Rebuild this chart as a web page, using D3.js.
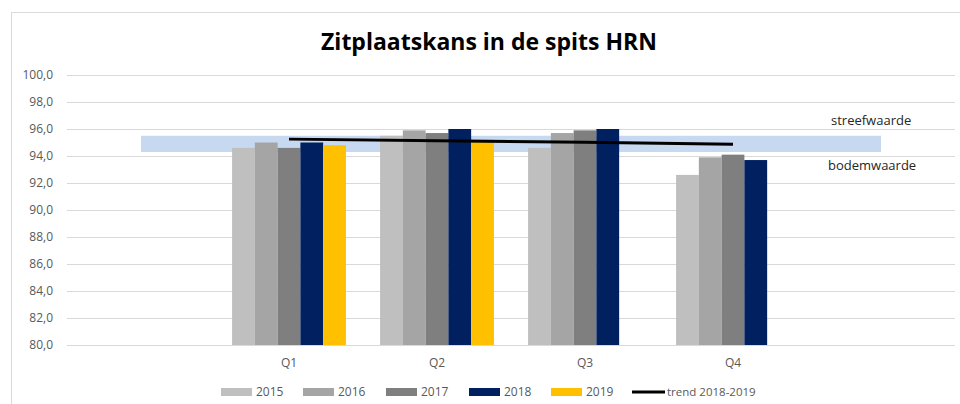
<!DOCTYPE html>
<html>
<head>
<meta charset="utf-8">
<script src="https://cdn.jsdelivr.net/npm/d3@7"></script>
<style>
    body { margin: 0; background: #fff; }
    svg { display: block; font-family: 'Open Sans', sans-serif; }
</style>
</head>
<body>
<div id="chart"></div>
<script>
var quarters = ['Q1', 'Q2', 'Q3', 'Q4'];
var years = ['2015', '2016', '2017', '2018', '2019'];
var s2015 = [94.6, 95.5, 94.6, 92.6];
var s2016 = [95.0, 95.9, 95.7, 93.9];
var s2017 = [94.6, 95.7, 95.9, 94.1];
var s2018 = [95.0, 96.0, 96.0, 93.7];
var s2019 = [94.8, 95.2, null, null];
var trend = [95.25, 95.13, 95.01, 94.87];
var bodemwaarde = [94.3, 94.3, 94.3, 94.3, 94.3, 94.3];
var streefwaarde = [95.5, 95.5, 95.5, 95.5, 95.5, 95.5];
var yTicks = [80, 82, 84, 86, 88, 90, 92, 94, 96, 98, 100];

(function() {
    'use strict';
    var width = 960;
    var height = 404;
    var colors = ['#bfbfbf', '#a5a5a5', '#7f7f7f', '#002060', '#ffc000'];
    var series = [s2015, s2016, s2017, s2018, s2019];

    // empty slots left and right, the band spans the whole width
    var slots = ['', quarters[0], quarters[1], quarters[2], quarters[3], ' '];

    var svg = d3.select('#chart').append('svg')
        .attr('width', width)
        .attr('height', height);

    svg.append('rect')
        .attr('x', 11.5).attr('y', 12.5)
        .attr('width', 980).attr('height', 420)
        .attr('fill', 'none')
        .attr('stroke', '#d9d9d9');

    var x = d3.scaleBand().domain(slots).range([67, 955]);
    var xs = d3.scaleBand().domain(years).range([0, x.bandwidth()]).paddingInner(0).paddingOuter(0.75);
    var y = d3.scaleLinear().domain([80, 100]).range([345, 75]);

    var nl = d3.formatLocale({decimal: ',', thousands: '.', grouping: [3], currency: ['€', '']});
    var fmt = nl.format('.1f');

    svg.append('text')
        .attr('x', 489).attr('y', 50)
        .attr('text-anchor', 'middle')
        .attr('font-size', 23)
        .attr('font-weight', 'bold')
        .attr('fill', '#000')
        .text('Zitplaatskans in de spits HRN');

    // gridlines + y labels
    var yAxis = svg.append('g').attr('class', 'y-axis');
    yTicks.forEach(function(d) {
        yAxis.append('line')
            .attr('x1', 67).attr('x2', 955)
            .attr('y1', Math.round(y(d)) + 0.5).attr('y2', Math.round(y(d)) + 0.5)
            .attr('stroke', '#d9d9d9')
            .attr('stroke-width', 1);
        yAxis.append('text')
            .attr('x', 53).attr('y', y(d))
            .attr('dy', '0.35em')
            .attr('text-anchor', 'end')
            .attr('font-size', 12)
            .attr('fill', '#595959')
            .text(fmt(d));
    });

    // streefwaarde / bodemwaarde band
    var band = d3.area()
        .x(function(d, i) { return x(slots[i]) + x.bandwidth() / 2; })
        .y0(function(d, i) { return y(bodemwaarde[i]); })
        .y1(function(d, i) { return y(streefwaarde[i]); });
    svg.append('path')
        .datum(slots)
        .attr('d', band)
        .attr('fill', '#c6d9f1');

    // bars
    series.forEach(function(values, si) {
        svg.append('g')
            .attr('fill', colors[si])
            .selectAll('rect')
            .data(values.map(function(v, qi) { return {q: quarters[qi], v: v}; })
                .filter(function(d) { return d.v !== null; }))
            .join('rect')
            .attr('x', function(d) { return x(d.q) + xs(years[si]); })
            .attr('y', function(d) { return y(d.v); })
            .attr('width', xs.bandwidth())
            .attr('height', function(d) { return y(80) - y(d.v); });
    });

    // trend line
    var line = d3.line()
        .x(function(d, i) { return x(quarters[i]) + x.bandwidth() / 2; })
        .y(function(d) { return y(d); });
    svg.append('path')
        .datum(trend)
        .attr('d', line)
        .attr('fill', 'none')
        .attr('stroke', '#000')
        .attr('stroke-width', 3);

    // x labels
    svg.append('g')
        .selectAll('text')
        .data(quarters)
        .join('text')
        .attr('x', function(d) { return x(d) + x.bandwidth() / 2; })
        .attr('y', 363)
        .attr('dy', '0.35em')
        .attr('text-anchor', 'middle')
        .attr('font-size', 12)
        .attr('fill', '#595959')
        .text(function(d) { return d; });

    // band labels
    svg.append('text')
        .attr('x', 831).attr('y', 120).attr('dy', '0.35em')
        .attr('font-size', 13).attr('fill', '#262626')
        .text('streefwaarde');
    svg.append('text')
        .attr('x', 828).attr('y', 165).attr('dy', '0.35em')
        .attr('font-size', 13).attr('fill', '#262626')
        .text('bodemwaarde');

    // legend
    var legendX = [221, 303, 386, 469, 551];
    var legend = svg.append('g').attr('class', 'legend');
    years.forEach(function(yr, i) {
        legend.append('rect')
            .attr('x', legendX[i]).attr('y', 388)
            .attr('width', 31).attr('height', 8)
            .attr('fill', colors[i]);
        legend.append('text')
            .attr('x', legendX[i] + 35).attr('y', 392).attr('dy', '0.35em')
            .attr('font-size', 12).attr('fill', '#595959')
            .text(yr);
    });
    legend.append('line')
        .attr('x1', 632).attr('x2', 665)
        .attr('y1', 392).attr('y2', 392)
        .attr('stroke', '#000').attr('stroke-width', 3);
    legend.append('text')
        .attr('x', 667).attr('y', 392).attr('dy', '0.35em')
        .attr('font-size', 11.5).attr('fill', '#595959')
        .text('trend 2018-2019');
})();
</script>
</body>
</html>
